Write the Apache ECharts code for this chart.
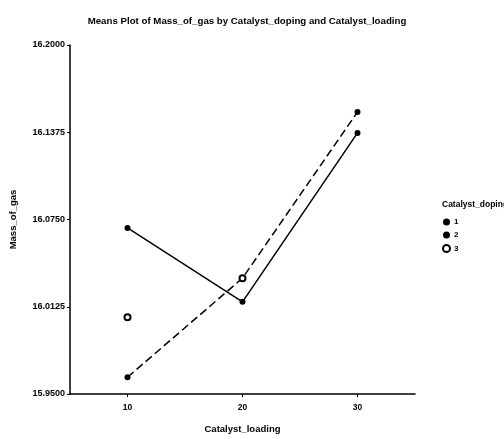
<!DOCTYPE html>
<html>
<head>
<meta charset="utf-8">
<script src="https://cdn.jsdelivr.net/npm/echarts@6/dist/echarts.min.js"></script>
<style>html,body{margin:0;padding:0;background:#fff;}#c{width:504px;height:439px;}</style>
</head>
<body>
<div id="c"></div>
<script>
const loadings = [10, 20, 30];
const doping1 = [16.069, 16.016, 16.137];
const doping2 = [15.962, 16.033, 16.152];
const doping3 = [16.005, 16.033, null];
const yTicks = [15.95, 16.0125, 16.075, 16.1375, 16.2];
const xTicks = [10, 20, 30];
const seriesNames = ['1', '2', '3'];

const font = 'Liberation Sans, Arial, sans-serif';
const pairs = arr => loadings.map((x, i) => [x, arr[i]]);

const chart = echarts.init(document.getElementById('c'));
chart.setOption({
  animation: false,
  backgroundColor: '#fff',
  title: [
    { text: 'Means Plot of Mass_of_gas by Catalyst_doping and Catalyst_loading', left: 242, textAlign: 'center', top: 11,
      textStyle: { fontFamily: font, fontSize: 9.7, fontWeight: 'bold', color: '#000' } },
    { text: 'Catalyst_doping', left: 437, top: 195,
      textStyle: { fontFamily: font, fontSize: 8.5, fontWeight: 'bold', color: '#000' } }
  ],
  legend: {
    orient: 'vertical', left: 437, top: 213, itemGap: 5, itemWidth: 7, itemHeight: 7,
    textStyle: { fontFamily: font, fontSize: 8, fontWeight: 'bold', color: '#000', padding: [0, 0, 0, -1] },
    data: [
      { name: '1', icon: 'circle' },
      { name: '2', icon: 'circle' },
      { name: '3', icon: 'emptyCircle', itemStyle: { borderWidth: 1.2 } }
    ]
  },
  grid: { left: 68, right: 89, top: 45, bottom: 42, containLabel: false },
  xAxis: {
    type: 'value', min: 5, max: 35,
    name: 'Catalyst_loading', nameLocation: 'middle', nameGap: 30,
    nameTextStyle: { fontFamily: font, fontSize: 9.5, fontWeight: 'bold', color: '#000' },
    axisLine: { lineStyle: { color: '#000', width: 1.5 } },
    axisTick: { show: true, length: 3, customValues: xTicks, lineStyle: { color: '#000' } },
    axisLabel: { customValues: xTicks, fontFamily: font, fontSize: 8.5, fontWeight: 'bold', color: '#000', margin: 9 },
    splitLine: { show: false }
  },
  yAxis: {
    type: 'value', min: 15.95, max: 16.2,
    name: 'Mass_of_gas', nameLocation: 'middle', nameGap: 52, nameRotate: 90,
    nameTextStyle: { fontFamily: font, fontSize: 9.5, fontWeight: 'bold', color: '#000' },
    axisLine: { show: true, lineStyle: { color: '#000', width: 1.5 } },
    axisTick: { show: true, length: 3, customValues: yTicks, lineStyle: { color: '#000' } },
    axisLabel: { customValues: yTicks, formatter: v => v.toFixed(4), fontFamily: font, fontSize: 9, fontWeight: 'bold', color: '#000', margin: 5 },
    splitLine: { show: false }
  },
  series: [
    { name: seriesNames[0], type: 'line', data: pairs(doping1), symbol: 'circle', symbolSize: 6,
      itemStyle: { color: '#000' }, lineStyle: { color: '#000', width: 1.5, type: 'solid' } },
    { name: seriesNames[1], type: 'line', data: pairs(doping2), symbol: 'circle', symbolSize: 6,
      itemStyle: { color: '#000' }, lineStyle: { color: '#000', width: 1.5, type: [8, 4] } },
    { name: seriesNames[2], type: 'line', data: pairs(doping3), symbol: 'emptyCircle', symbolSize: 6,
      itemStyle: { color: '#000', borderColor: '#000', borderWidth: 1.5 }, lineStyle: { width: 0, opacity: 0 } }
  ]
});
</script>
</body>
</html>
